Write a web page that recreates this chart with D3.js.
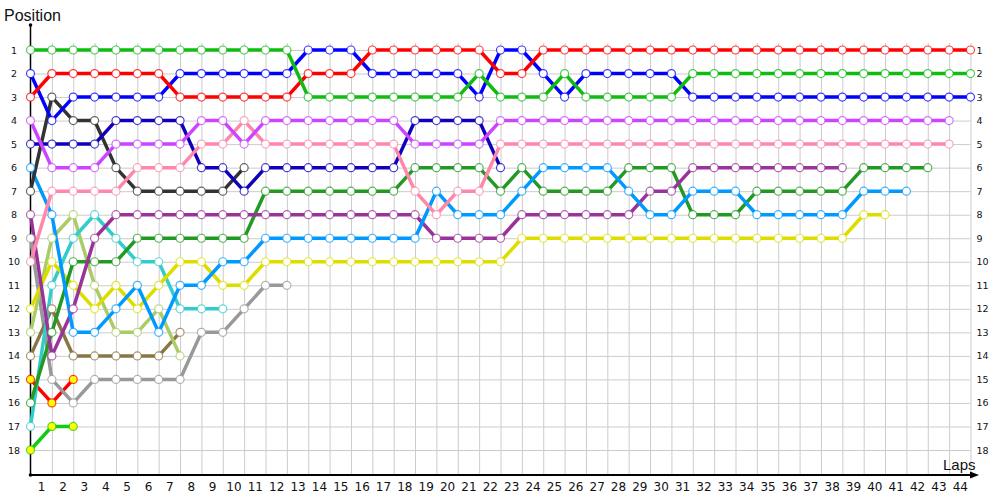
<!DOCTYPE html>
<html>
<head>
<meta charset="utf-8">
<script src="https://d3js.org/d3.v7.min.js"></script>
<style>
  body { margin: 0; background: #fff; }
  text { font-family: "Liberation Sans", Arial, sans-serif; fill: #111; }
</style>
</head>
<body>
<div id="my_dataviz"></div>
<script>
// tick labels
var lapLabels = [1,2,3,4,5,6,7,8,9,10,11,12,13,14,15,16,17,18,19,20,21,22,
                 23,24,25,26,27,28,29,30,31,32,33,34,35,36,37,38,39,40,41,42,43,44];
var posLabels = [1,2,3,4,5,6,7,8,9,10,11,12,13,14,15,16,17,18];

// position of each car per lap, starting with the grid (lap 0)
var green      = [1,1,1,1,1,1,1,1,1,1,1,1,1,3,3,3,3,3,3,3,3,2,3,3,3,2,3,3,3,3,3,2,2,2,2,2,2,2,2,2,2,2,2,2,2];
var red        = [3,2,2,2,2,2,2,3,3,3,3,3,3,2,2,2,1,1,1,1,1,1,2,2,1,1,1,1,1,1,1,1,1,1,1,1,1,1,1,1,1,1,1,1,1];
var blue       = [2,4,3,3,3,3,3,2,2,2,2,2,2,1,1,1,2,2,2,2,2,3,1,1,2,3,2,2,2,2,2,3,3,3,3,3,3,3,3,3,3,3,3,3,3];
var magenta    = [4,6,6,6,5,5,5,5,4,4,5,4,4,4,4,4,4,4,5,5,5,5,4,4,4,4,4,4,4,4,4,4,4,4,4,4,4,4,4,4,4,4,4,4];
var pink       = [10,7,7,7,7,6,6,6,5,5,4,5,5,5,5,5,5,5,7,8,7,7,5,5,5,5,5,5,5,5,5,5,5,5,5,5,5,5,5,5,5,5,5,5];
var navy       = [5,5,5,5,4,4,4,4,6,6,7,6,6,6,6,6,6,6,4,4,4,4,6];
var darkGray   = [7,3,4,4,6,7,7,7,7,7,6];
var lightBlue  = [6,8,13,13,12,11,13,11,11,10,10,9,9,9,9,9,9,9,9,7,8,8,8,7,6,6,6,6,7,8,8,7,7,7,8,8,8,8,8,7,7,7];
var purple     = [8,14,12,9,8,8,8,8,8,8,8,8,8,8,8,8,8,8,8,9,9,9,9,8,8,8,8,8,8,7,7,6,6,6,6,6,6,6,6];
var darkGreen  = [16,13,10,10,10,9,9,9,9,9,9,7,7,7,7,7,7,7,6,6,6,6,7,6,7,7,7,7,6,6,6,8,8,8,7,7,7,7,7,6,6,6,6];
var yellow     = [12,10,11,12,11,12,11,10,10,11,11,10,10,10,10,10,10,10,10,10,10,10,10,9,9,9,9,9,9,9,9,9,9,9,9,9,9,9,9,8,8];
var cyan       = [17,11,9,8,9,10,10,12,12,12];
var lightGreen = [13,9,8,11,13,13,12,14];
var olive      = [14,12,14,14,14,14,14,13];
var gray       = [9,15,16,15,15,15,15,15,13,13,12,11,11];
var redOut     = [15,16,15];
var greenOut   = [18,17,17];

// series table (drawn back to front)
var series = [
  {pos: greenOut,   color: "#11cc11", fill: "#ffff00"},
  {pos: redOut,     color: "#ff0000", fill: "#ffff00"},
  {pos: gray,       color: "#999999", fill: "#fff"},
  {pos: olive,      color: "#887744", fill: "#fff"},
  {pos: lightGreen, color: "#aacc66", fill: "#fff"},
  {pos: cyan,       color: "#33cccc", fill: "#fff"},
  {pos: yellow,     color: "#dddd00", fill: "#fff"},
  {pos: darkGreen,  color: "#229922", fill: "#fff"},
  {pos: purple,     color: "#993399", fill: "#fff"},
  {pos: lightBlue,  color: "#0099ff", fill: "#fff"},
  {pos: darkGray,   color: "#333333", fill: "#fff"},
  {pos: navy,       color: "#1100bb", fill: "#fff"},
  {pos: pink,       color: "#ff88aa", fill: "#fff"},
  {pos: magenta,    color: "#cc44ff", fill: "#fff"},
  {pos: blue,       color: "#0000ff", fill: "#fff"},
  {pos: red,        color: "#ff0000", fill: "#fff"},
  {pos: green,      color: "#11bb11", fill: "#fff"}
];

var width = 1000, height = 500;
var plotLeft = 30.5, plotRight = 970.5, plotTop = 50, plotBottom = 450, axisY = 475, gridTop = 43;

var svg = d3.select("#my_dataviz")
  .append("svg")
    .attr("width", width)
    .attr("height", height);

var x = d3.scaleLinear().domain([0, 44]).range([plotLeft, plotRight]);
var y = d3.scaleLinear().domain([1, 18]).range([plotTop, plotBottom]);
var step = x(1) - x(0);

// grid
svg.append("g")
  .attr("transform", "translate(0," + axisY + ")")
  .call(d3.axisBottom(x).tickValues(lapLabels).tickSize(-(axisY - gridTop)).tickFormat(""))
  .call(function(g) { g.select(".domain").remove(); })
  .selectAll("line").attr("stroke", "#cccccc");

svg.append("g")
  .attr("transform", "translate(" + plotLeft + ",0)")
  .call(d3.axisLeft(y).tickValues(posLabels).tickSize(-(plotRight - plotLeft)).tickFormat(""))
  .call(function(g) { g.select(".domain").remove(); })
  .selectAll("line").attr("stroke", "#cccccc");

// lap labels (centered between grid lines)
svg.append("g")
  .attr("transform", "translate(0," + axisY + ")")
  .call(d3.axisBottom(x).tickValues(lapLabels).tickSize(0).tickPadding(7))
  .call(function(g) { g.select(".domain").remove(); })
  .selectAll("text")
    .attr("x", -step / 2)
    .style("font-size", "12px")
    .style("font-family", "'DejaVu Sans', sans-serif")
    .attr("fill", "#111");

// position labels, left and right
svg.append("g")
  .attr("transform", "translate(" + plotLeft + ",0)")
  .call(d3.axisLeft(y).tickValues(posLabels).tickSize(0))
  .call(function(g) { g.select(".domain").remove(); })
  .selectAll("text")
    .attr("x", -16.5)
    .attr("text-anchor", "middle")
    .style("font-size", "9.5px")
    .style("font-family", "'DejaVu Sans', sans-serif")
    .attr("fill", "#111");

svg.append("g")
  .attr("transform", "translate(" + plotRight + ",0)")
  .call(d3.axisRight(y).tickValues(posLabels).tickSize(0))
  .call(function(g) { g.select(".domain").remove(); })
  .selectAll("text")
    .attr("x", 6)
    .style("font-size", "9.5px")
    .style("font-family", "'DejaVu Sans', sans-serif")
    .attr("fill", "#111");

// axes lines
svg.append("line")
  .attr("x1", plotLeft).attr("x2", plotLeft)
  .attr("y1", 25).attr("y2", axisY)
  .attr("stroke", "#000").attr("stroke-width", 1.5);
svg.append("circle")
  .attr("cx", plotLeft).attr("cy", 25).attr("r", 1.8).attr("fill", "#000");

svg.append("line")
  .attr("x1", plotLeft).attr("x2", 972)
  .attr("y1", axisY).attr("y2", axisY)
  .attr("stroke", "#000").attr("stroke-width", 2);
svg.append("path")
  .attr("d", "M970,471.5 L979,475 L970,478.5 Z")
  .attr("fill", "#000");
svg.append("circle")
  .attr("cx", plotLeft).attr("cy", axisY).attr("r", 1.8).attr("fill", "#000");

// axis titles
svg.append("text")
  .attr("x", 4).attr("y", 21)
  .style("font-size", "16px")
  .text("Position");
svg.append("text")
  .attr("x", 943).attr("y", 470)
  .style("font-size", "15px")
  .text("Laps");

// lines
var line = d3.line()
  .x(function(d, i) { return x(i); })
  .y(function(d) { return y(d); });

svg.append("g")
  .selectAll("path")
  .data(series)
  .enter()
  .append("path")
    .attr("d", function(d) { return line(d.pos); })
    .attr("fill", "none")
    .attr("stroke", function(d) { return d.color; })
    .attr("stroke-width", 3.5)
    .attr("stroke-linejoin", "round");

// points
svg.append("g")
  .selectAll("g")
  .data(series)
  .enter()
  .append("g")
  .each(function(s) {
    d3.select(this).selectAll("circle")
      .data(s.pos)
      .enter()
      .append("circle")
        .attr("cx", function(d, i) { return x(i); })
        .attr("cy", function(d) { return y(d); })
        .attr("r", 4)
        .attr("fill", s.fill)
        .attr("stroke", s.color)
        .attr("stroke-opacity", 0.75)
        .attr("stroke-width", 1.2);
  });
</script>
</body>
</html>
